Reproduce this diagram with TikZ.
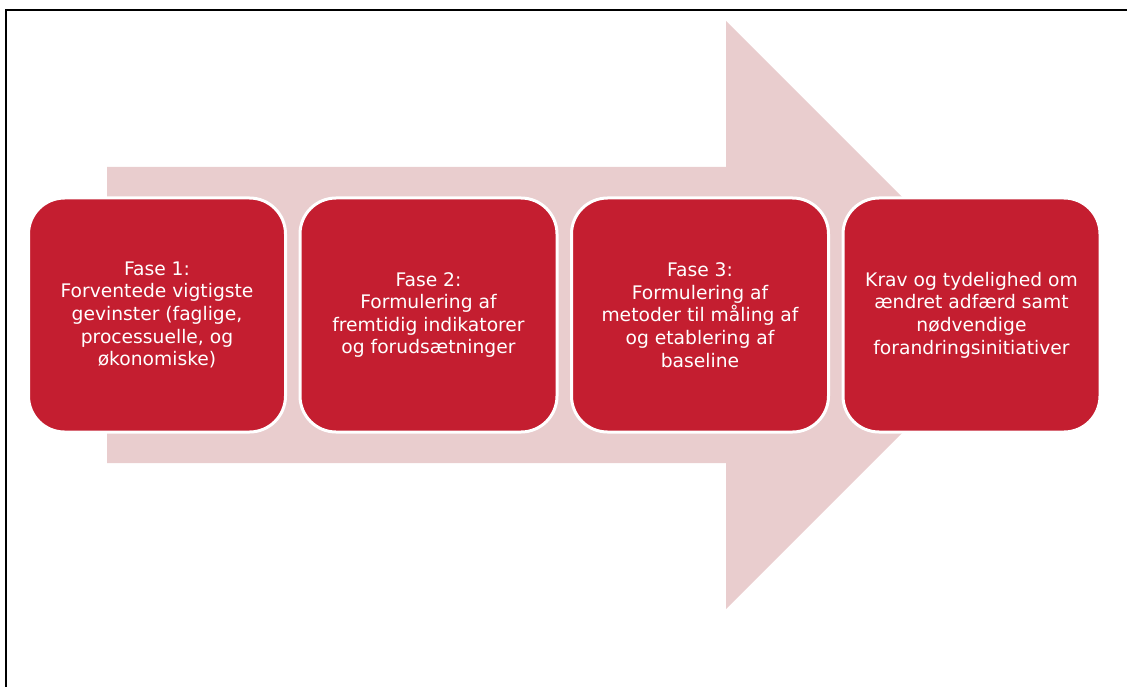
\documentclass[tikz,border=0pt]{standalone}
\usepackage{fontspec}
\setmainfont{DejaVu Sans}
\usetikzlibrary{positioning}
\definecolor{phasered}{RGB}{196,30,48}
\definecolor{arrowpink}{RGB}{233,205,206}

\begin{document}
\begin{tikzpicture}[x=1pt,y=-1pt,
  phase/.style={rectangle,rounded corners=36pt,fill=phasered,draw=white,line width=3pt,
    minimum width=257pt,minimum height=234pt,outer sep=0pt,text=white,align=center,
    font=\fontsize{18.7}{22.6}\selectfont}]
 \useasboundingbox (0,0) rectangle (1127,687);
 \draw[line width=2pt] (6,687) -- (6,10) -- (1127,10);
 \fill[arrowpink] (107,167) -- (726,167) -- (726,21) -- (1020,315) -- (726,609) -- (726,463) -- (107,463) -- cycle;
 \node[phase] (fase1) at (157,315) {Fase 1:\\Forventede vigtigste\\gevinster (faglige,\\processuelle, og\\økonomiske)};
 \node[phase,right=14.5pt of fase1] (fase2) {Fase 2:\\Formulering af\\fremtidig indikatorer\\og forudsætninger};
 \node[phase,right=14.5pt of fase2] (fase3) {Fase 3:\\Formulering af\\metoder til måling af\\og etablering af\\baseline};
 \node[phase,right=14.5pt of fase3] (krav) {Krav og tydelighed om\\ændret adfærd samt\\nødvendige\\forandringsinitiativer};
\end{tikzpicture}
\end{document}
